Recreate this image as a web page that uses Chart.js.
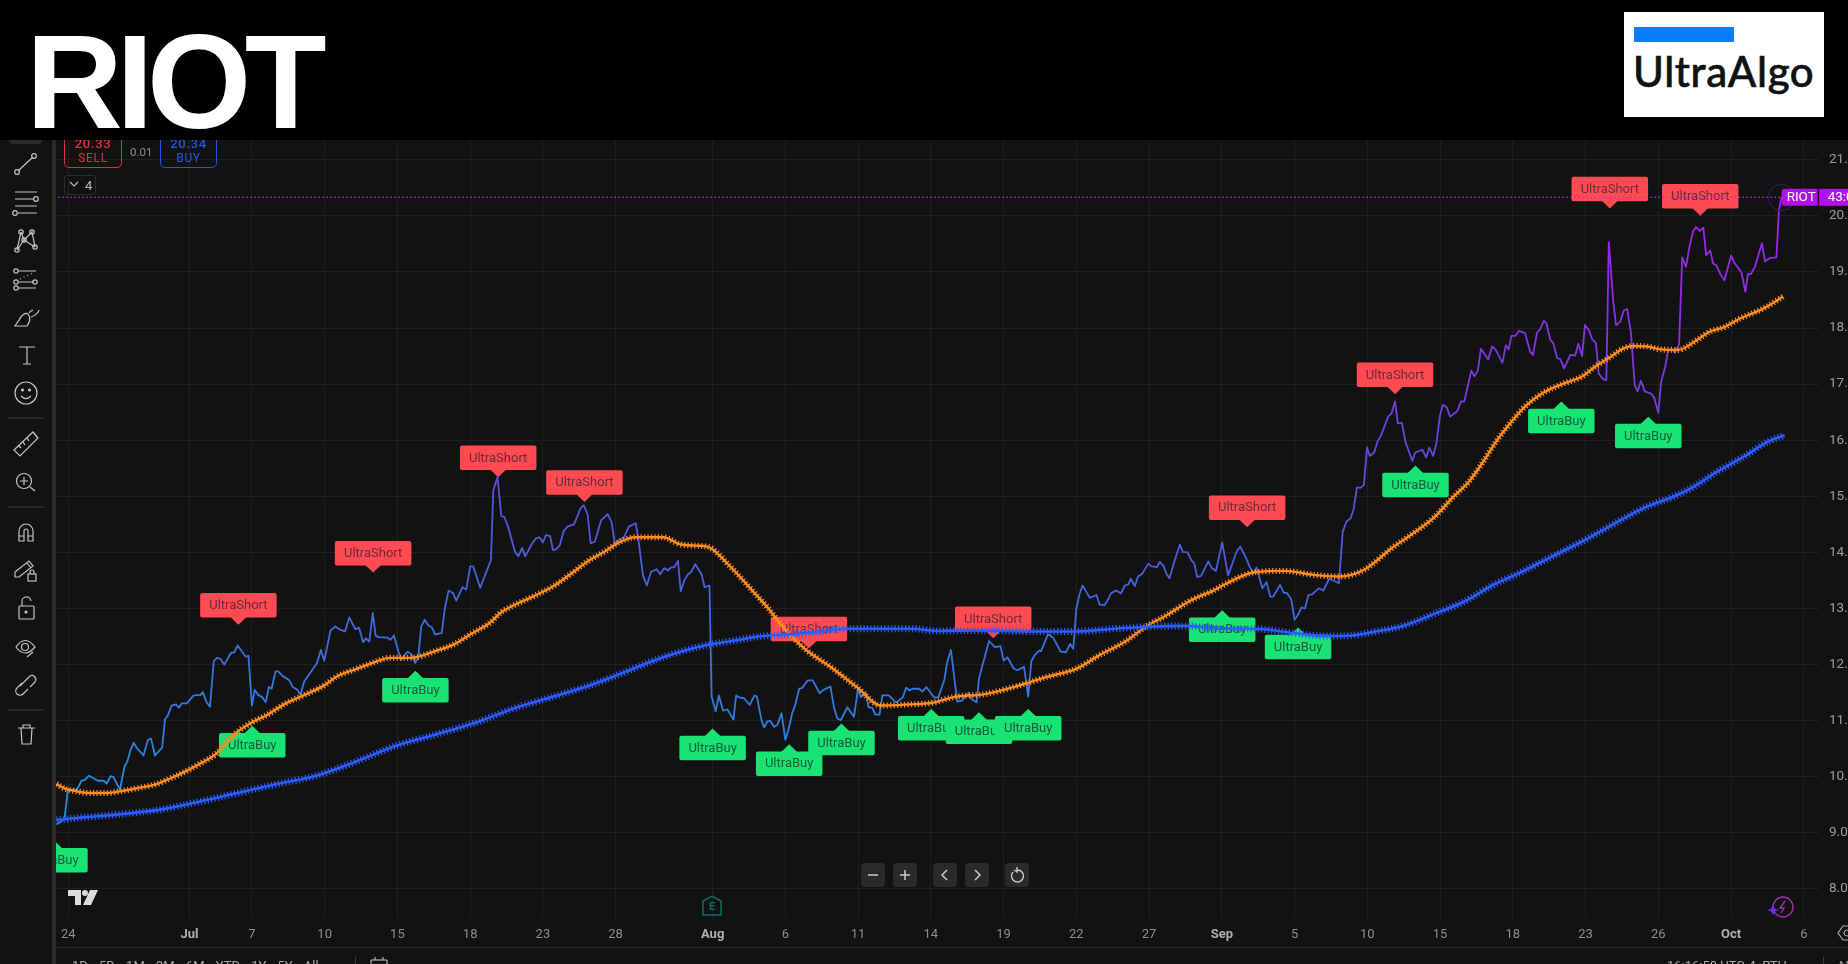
<!DOCTYPE html>
<html lang="en">
<head>
<meta charset="UTF-8">
<title>RIOT</title>
<script src="https://cdn.jsdelivr.net/npm/chart.js@4"></script>
<style>
  html, body { margin: 0; padding: 0; width: 1848px; height: 964px; overflow: hidden; background: #121212; font-family: Roboto, sans-serif; }
  #myChart { position: absolute; left: 0; top: 0; }
  .abs { position: absolute; white-space: nowrap; }
  #header { position: absolute; left: 0; top: 0; width: 1848px; height: 140px; background: #000; overflow: hidden; }
  #riot { position: absolute; left: 26px; top: 9px; font: bold 134px/146px "Liberation Sans", sans-serif; letter-spacing: -6.5px; color: #fff; }
  #logo { position: absolute; left: 1624px; top: 12px; width: 200px; height: 105px; background: #fff; }
  #logobar { position: absolute; left: 10px; top: 15px; width: 100px; height: 15px; background: #0a7cff; }
  #logotext { position: absolute; left: 9px; top: 35px; font: 500 42px/48px Lato, sans-serif; color: #111; letter-spacing: .6px; -webkit-text-stroke: .6px #111; }
  #toolbar { position: absolute; left: 0; top: 0; width: 52px; height: 964px; background: #121212; }
  #strip { position: absolute; left: 52px; top: 0; width: 4px; height: 964px; background: #2a2a2a; }
  .btn { position: absolute; top: 863px; width: 24px; height: 24px; background: #2a2a2a; border-radius: 4px; }
  .order { position: absolute; box-sizing: border-box; top: 129px; height: 39px; border: 1.2px solid; border-radius: 5px; text-align: center; font-size: 12px; line-height: 14px; letter-spacing: .7px; }
</style>
</head>
<body>
<canvas id="myChart" width="1848" height="964"></canvas>

<!-- trade boxes under the header -->
<div class="order" style="left:64px;width:58px;color:#e0303f;border-color:#e0303f;padding-top:7px"><b style="font-weight:500;font-size:13px">20.33</b><br>SELL</div>
<div class="abs" style="left:130px;top:145px;font-size:11.5px;color:#8c8c8c">0.01</div>
<div class="order" style="left:160px;width:57px;color:#2456e0;border-color:#2456e0;padding-top:7px"><b style="font-weight:500;font-size:13px">20.34</b><br>BUY</div>
<div class="abs" style="left:64px;top:175px;width:32px;height:20px;box-sizing:border-box;border:1px solid #2c2c2c;border-radius:3px;color:#bbb;font-size:13px;line-height:19px;padding-left:20px">4</div>
<svg class="abs" style="left:68px;top:180px" width="12" height="8"><path d="M2 2 L6 6 L10 2" fill="none" stroke="#bbb" stroke-width="1.2"/></svg>

<div class="abs" style="left:56px;right:0;top:947px;height:1px;background:#2a2a2a"></div>

<!-- chart zoom buttons -->
<div class="btn" style="left:861px"><svg width="24" height="24"><path d="M7 12H17" stroke="#ccc" stroke-width="1.5"/></svg></div>
<div class="btn" style="left:893px"><svg width="24" height="24"><path d="M7 12H17M12 7V17" stroke="#ccc" stroke-width="1.5"/></svg></div>
<div class="btn" style="left:933px"><svg width="24" height="24"><path d="M14 7L9 12L14 17" fill="none" stroke="#ccc" stroke-width="1.5"/></svg></div>
<div class="btn" style="left:965px"><svg width="24" height="24"><path d="M10 7L15 12L10 17" fill="none" stroke="#ccc" stroke-width="1.5"/></svg></div>
<div class="btn" style="left:1005px"><svg width="24" height="24"><path d="M8 9A6 6 0 1 0 12 7M12 4V9L9 7" fill="none" stroke="#ccc" stroke-width="1.4"/></svg></div>

<!-- earnings mark, tv logo, lightning -->
<svg class="abs" style="left:702px;top:895px" width="22" height="22"><path d="M1 6L10 1L19 6V20H1Z" fill="none" stroke="#0d6e5e" stroke-width="1.5"/><text x="10" y="15" font-size="11" font-weight="bold" text-anchor="middle" fill="#0d6e5e" font-family="Roboto">E</text></svg>
<svg class="abs" style="left:68px;top:889px" width="31" height="17"><path d="M0 1H13V16H7V7H0Z M22 1H30L23 16H15Z" fill="#dcdcdc"/><circle cx="17" cy="4" r="3" fill="#dcdcdc"/></svg>
<svg class="abs" style="left:1765px;top:894px" width="32" height="26"><circle cx="18" cy="13" r="10" fill="none" stroke="#a030b0" stroke-width="1.4"/><path d="M20 7L15 14H19L16 19" fill="none" stroke="#a030b0" stroke-width="1.4"/><path d="M8 11L10 15L14 16L10 17.5L8 21L6 17.5L2 16L6 15Z" fill="#6a30f0"/></svg>
<svg class="abs" style="left:1836px;top:924px" width="12" height="18"><path d="M12 2H7L2 9L7 16H12" fill="none" stroke="#aaa" stroke-width="1.2"/><circle cx="11" cy="9" r="3" fill="none" stroke="#aaa"/></svg>

<!-- bottom bar, only the top of it is in the shot -->
<div class="abs" style="left:72px;top:958px;font-size:13px;color:#aaa;word-spacing:8px">1D 5D 1M 3M 6M YTD 1Y 5Y All</div>
<div class="abs" style="left:355px;top:957px;width:1px;height:7px;background:#3a3a3a"></div>
<svg class="abs" style="left:370px;top:957px" width="18" height="7"><path d="M1 7V3H17V7M5 0V3M13 0V3" fill="none" stroke="#ccc"/></svg>
<div class="abs" style="left:1667px;top:958px;font-size:13px;color:#aaa">16:16:58 UTC-4 &nbsp;RTH</div>
<div class="abs" style="left:1823px;top:957px;width:1px;height:7px;background:#3a3a3a"></div>
<div class="abs" style="left:1837px;top:958px;font-size:13px;color:#aaa">AD</div>

<!-- drawing tools -->
<div id="strip"></div>
<div id="toolbar">
<svg width="52" height="964" fill="none" stroke="#c4c4c4" stroke-width="1.2">
  <rect x="9" y="120" width="33" height="24" rx="4" fill="#2a2a2a" stroke="none"/>
  <path d="M18 171L33 157"/><circle cx="17" cy="172" r="2.3"/><circle cx="34" cy="156" r="2.3"/>
  <path d="M15 192H37M15 199H34M15 206H37M17 213H37"/><circle cx="36" cy="199" r="2.3"/><circle cx="15" cy="213" r="2.3"/>
  <path d="M17 250L24 240L35 247M21 232L24 240L32 232L35 247M17 250L21 232"/><circle cx="17" cy="250" r="2.2"/><circle cx="21" cy="232" r="2.2"/><circle cx="32" cy="232" r="2.2"/><circle cx="35" cy="247" r="2.2"/><circle cx="24" cy="240" r="2.2"/>
  <path d="M18 271H36M18 288H36M18 282H34"/><circle cx="16" cy="271" r="2.2"/><circle cx="16" cy="282" r="2.2"/><circle cx="16" cy="288" r="2.2"/><circle cx="35" cy="282" r="2.2"/><path d="M20 279L33 273" stroke-dasharray="1 3"/>
  <path d="M15 326H27C30 322 31 318 28 314C25 312 21 316 19 320ZM29 313C30 311 33 310 33 310M31 317C35 316 39 312 39 310"/>
  <path d="M19 347H35M27 347V364M23 364H31"/>
  <circle cx="26" cy="393" r="11"/><circle cx="22.5" cy="390" r="1" fill="#c4c4c4"/><circle cx="29.5" cy="390" r="1" fill="#c4c4c4"/><path d="M21 396Q26 401 31 396"/>
  <path d="M8 418H44" stroke="#3a3a3a"/>
  <path d="M14 450L33 432L38 438L20 456ZM19 446L21 448M23 442L25 445M27 438L29 441"/>
  <circle cx="24" cy="481" r="7.5"/><path d="M24 477V485M20 481H28M30 487L35 491"/>
  <path d="M8 507H44" stroke="#3a3a3a"/>
  <path d="M19 541V531A7 7 0 0 1 33 531V541H28V531A2 2 0 0 0 24 531V541ZM19 536H24M28 536H33"/>
  <path d="M15 572L29 561L33 566L19 577H15ZM27 563L31 568"/><rect x="28" y="574" width="8" height="7"/><path d="M30 574V572A2 2 0 0 1 34 572V574"/>
  <rect x="19" y="606" width="15" height="13" rx="1"/><path d="M22 606V602A4.5 4.5 0 0 1 31 601"/><circle cx="26" cy="612" r="1" fill="#c4c4c4"/>
  <path d="M16 647Q25 634 35 647Q25 659 16 647Z"/><circle cx="25" cy="647" r="3.5"/><path d="M27 657L33 652"/>
  <path d="M20 686L30 676A4 4 0 0 1 35 682L30 687M22 683L17 688A4 4 0 0 0 23 694L28 689"/>
  <path d="M8 710H44" stroke="#3a3a3a"/>
  <path d="M18 728H35M21 728L22 744H31L32 728M23 728V725H30V728"/>
</svg>
</div>

<div id="header">
  <div id="riot">RIOT</div>
  <div id="logo"><div id="logobar"></div><div id="logotext">UltraAlgo</div></div>
</div>

<script>
// x is the bar number on TradingView's time axis (hourly bars, bar 0 = Jun 24)
const tickBars = [0,35,53,74,95,116,137,158,186,207,228,249,270,291,312,333,354,375,396,417,438,459,480,501];
const tickLabels = ['24','Jul','7','10','15','18','23','28','Aug','6','11','14','19','22','27','Sep','5','10','15','18','23','26','Oct','6'];
const boldLabels = ['Jul','Aug','Sep','Oct'];
const priceTicks = [8,9,10,11,12,13,14,15,16,17,18,19,20,21];
const lastPrice = 20.33;

const priceBars = [-3.4,-1.1,-0.1,2.5,3.8,4.7,6,8.5,10.2,11.1,12.2,13,14.9,16.2,17,18,18.9,19.7,21.7,23,23.9,25,27.1,27.9,28.8,29.8,31.1,31.9,32.8,34.2,36.2,38.2,38.8,39.9,40.9,42,42.9,44,45,47,47.9,48.9,51.2,52,53,53.8,54.8,56,57,57.9,58.7,59.8,60.6,62,63.8,64.8,66.1,67,68.1,71.8,72.9,73.9,75.7,77.1,78.2,79.9,81.1,82.9,83.9,85.1,85.9,86.9,87.9,88.7,89.6,92.2,93,94,96,97.9,99,100.1,101,101.9,102.9,103.9,105,105.9,107.8,108.7,109.8,111.1,112,113.8,114.9,116,116.9,118.9,122,122.7,123.9,125,125.9,126.9,128.9,129.9,131,131.9,133.8,135,136,137,137.9,139.1,139.9,140.9,141.9,143,144.1,146,147.9,148.8,149.9,150.8,152,153.8,155.7,156.8,157.8,159,160.4,161.8,163.8,164.6,165.9,167,168.2,169.8,170.9,172,173.1,173.9,175,176,176.8,177.9,178.9,179.8,181,182.8,183.7,185.1,185.7,186.9,187.8,189,190.3,192,192.8,193.9,195.1,196.7,198.1,198.8,200.1,200.9,201.8,202.6,203.8,204.7,205.9,207,207.9,209,209.8,211,211.8,213.5,214.9,216.9,218,220,221.1,222,223,224.9,226.8,228,228.8,230.3,231,232.1,233,234.2,235,236.9,238.6,239.2,240.9,241.9,242.8,243.7,245.5,246.6,247.7,250,251.2,252.9,253.7,254.8,256.6,258,260,260.6,262.2,262.9,264,265.8,267.5,269.1,270,271.1,272.9,274,275.9,277.1,278,279.1,280.3,280.8,282.8,284.3,286.5,288,289.2,290.1,291,291.9,292.8,294.9,296.8,297.7,299.1,299.9,301,302.5,303.9,305,306,306.7,307.9,308.8,310,311.8,312.7,314.3,315.1,316.2,317,317.9,319.1,320.9,321.7,323.1,324.2,325,325.9,327,329.1,330.1,331.3,333.1,334.8,336.2,337.3,338.3,339.6,341,342.2,343,344.7,345.9,347,347.8,349.8,350.9,351.7,353,354,355,356,357,358,359,361,362.3,364,366.8,367.9,369,370.2,371,372,373,374,374.9,375.7,377,377.9,379,381,382,383,383.8,385,386,388,388.8,390.9,392,392.9,394,394.9,396,396.8,397.9,398.9,401,402,403,405,405.9,406.9,407.8,409.9,411,412,414,415,415.8,416.6,417.7,418.8,420.5,422,422.8,424,424.9,426,426.7,427.8,428.7,429.8,430.7,431.8,433.6,435,435.9,437,437.8,439,439.9,441,441.8,443,444,444.7,446,446.8,448,449,450,451.1,452.2,453,454,455.1,456.9,457.8,459,459.8,461,461.8,463,463.8,465,465.9,467,467.9,469,469.9,471,472,472.8,474,474.8,475.7,477,478.1,480,481,483,484.1,484.9,485.7,486.9,488.9,489.8,491.4,493.1,493.8,494.6];
const priceValues = [9.15,9.25,9.77,9.77,9.93,9.94,10.02,9.93,9.93,9.88,10.01,10.0,9.77,10.18,10.27,10.48,10.61,10.52,10.38,10.66,10.68,10.38,10.52,11.02,11.1,11.27,11.29,11.23,11.31,11.31,11.45,11.46,11.51,11.33,11.25,12.06,12.12,12.1,12.0,12.21,12.22,12.34,12.14,12.16,11.27,11.55,11.46,11.42,11.33,11.6,11.57,11.88,11.88,11.79,11.72,11.6,11.55,11.46,11.7,12.03,12.26,12.07,12.61,12.68,12.63,12.59,12.84,12.63,12.66,12.4,12.47,12.41,12.92,12.52,12.49,12.48,12.44,12.52,12.08,12.23,12.19,12.03,12.12,12.68,12.8,12.7,12.66,12.54,12.56,13.0,13.32,13.27,13.14,13.38,13.34,13.75,13.75,13.37,13.86,15.11,15.34,14.65,14.63,14.47,14.02,13.93,14.08,13.93,14.15,14.25,14.27,14.18,14.31,14.29,14.04,14.06,14.13,14.38,14.46,14.5,14.79,14.84,14.68,14.16,14.19,14.57,14.68,14.55,14.15,14.23,14.27,14.46,14.52,14.22,13.59,13.41,13.65,13.7,13.61,13.72,13.68,13.73,13.74,13.85,13.31,13.51,13.61,13.65,13.79,13.61,13.38,13.41,11.43,11.17,11.45,11.18,11.2,11.02,11.45,11.41,11.4,11.28,11.45,11.43,11.01,10.88,10.99,11.0,10.89,10.93,11.13,10.66,10.84,11.14,11.27,11.57,11.58,11.72,11.72,11.49,11.55,11.61,11.22,11.04,11.01,11.24,11.07,11.58,11.42,11.49,11.24,11.23,11.11,11.11,11.45,11.45,11.34,11.33,11.42,11.59,11.54,11.57,11.57,11.52,11.6,11.41,11.42,11.73,12.04,12.26,11.34,11.36,11.5,11.39,11.33,11.75,12.01,12.42,12.31,12.33,12.07,12.13,11.93,11.9,11.96,11.43,12.06,12.18,12.25,12.24,12.54,12.48,12.23,12.22,12.37,12.28,13.0,13.25,13.41,13.19,13.24,13.07,13.06,13.13,13.27,13.32,13.27,13.41,13.43,13.53,13.4,13.57,13.62,13.8,13.75,13.74,13.83,13.75,13.62,13.54,13.8,14.14,14.01,14.0,13.86,13.81,13.56,13.58,13.84,13.72,13.67,14.18,13.59,13.83,14.02,14.1,13.95,13.75,13.63,13.73,13.36,13.47,13.21,13.21,13.42,13.28,13.28,13.17,12.8,12.89,13.02,13.0,13.24,13.25,13.36,13.32,13.53,13.45,14.37,14.55,14.61,14.76,15.16,15.15,15.2,15.87,15.72,15.78,15.97,16.09,16.42,16.48,16.69,16.3,16.31,15.97,15.63,15.78,15.83,15.69,15.87,15.72,15.93,16.45,16.63,16.59,16.42,16.52,16.69,16.69,17.24,17.14,17.24,17.63,17.44,17.67,17.62,17.38,17.69,17.62,17.86,17.86,17.95,17.91,17.58,17.52,17.92,17.98,18.13,18.08,17.79,17.73,17.46,17.45,17.28,17.52,17.51,17.72,17.5,18.05,17.96,17.8,17.73,17.19,17.09,17.07,19.53,18.47,18.05,18.11,18.31,18.34,17.91,16.98,16.87,17.06,16.87,16.83,16.76,16.49,17.04,17.31,17.59,17.62,17.56,17.71,19.26,19.09,19.42,19.72,19.8,19.73,19.79,19.3,19.38,19.15,19.12,18.95,18.85,19.29,19.16,18.99,18.65,18.97,18.96,19.09,19.51,19.19,19.25,19.26,20.1,20.34];

const orangeBars = [-3.4,-0.9,2.5,6.5,11.1,15.7,20.2,25.4,29.4,34,38.5,42.5,45.4,48.8,53.3,57.9,62.5,68.2,73.9,77.3,83,88.7,92.7,99,105.9,111.6,116.1,121.8,124.7,128.7,134.4,140.1,145.8,150.4,155,159,163.8,171.8,176.4,181,184.6,191.2,197,202.1,206.6,213,219.8,227.8,234.6,242.6,249.4,256.3,264.3,275.7,282.5,291.1,297.4,305.4,311.1,316.8,323.6,330.5,338.1,342.7,351.1,359.5,366.8,374.1,381.9,387.5,394.2,399.8,404.3,408.8,412.1,416.6,420.5,425.6,431.2,436.8,440.7,444.6,449.1,451.9,455.8,459.7,464.7,470.3,473.7,478.2,482.6,489.4,495];
const orangeValues = [9.87,9.79,9.74,9.71,9.71,9.75,9.8,9.87,9.97,10.1,10.25,10.4,10.59,10.8,10.98,11.12,11.3,11.46,11.63,11.78,11.92,12.05,12.12,12.12,12.24,12.37,12.54,12.75,12.92,13.06,13.22,13.4,13.65,13.86,14.02,14.18,14.27,14.27,14.15,14.12,14.1,13.74,13.35,13.0,12.65,12.26,11.97,11.59,11.27,11.29,11.32,11.43,11.47,11.65,11.78,11.93,12.16,12.42,12.68,12.87,13.13,13.32,13.56,13.65,13.67,13.6,13.57,13.69,14.07,14.31,14.62,14.99,15.26,15.65,15.97,16.33,16.6,16.84,17.0,17.13,17.31,17.46,17.64,17.68,17.67,17.62,17.61,17.79,17.93,18.02,18.17,18.35,18.56];

const blueBars = [-3.4,3.1,14.5,26,37.4,48.8,60.2,71.6,83,94.4,105.9,117.3,128.7,140.1,151.5,159.2,170.7,182.1,192.4,199.2,208.3,216.3,224.3,243.7,250.6,262,279.1,290.5,302,313.4,322.5,330.5,338.1,345,354,362.9,370.7,377.4,385.3,394.2,403.2,411,418.8,427.8,436.8,445.7,448,455.8,463.6,469.2,476,483.8,490.5,495.5];
const blueValues = [9.23,9.27,9.33,9.41,9.55,9.71,9.87,10.02,10.27,10.55,10.75,10.96,11.22,11.43,11.65,11.83,12.11,12.32,12.43,12.5,12.54,12.58,12.64,12.64,12.6,12.61,12.59,12.59,12.64,12.68,12.69,12.65,12.64,12.63,12.56,12.51,12.52,12.59,12.69,12.9,13.13,13.41,13.63,13.91,14.19,14.49,14.57,14.82,15.0,15.17,15.44,15.71,15.97,16.09];

// signal flags: bar and price of the tip of each flag
const shortBars = [49.1,88,124.1,149,213.8,267,340.3,383,445,471.1];
const shortPrices = [12.71,13.64,15.34,14.9,12.29,12.47,14.45,16.82,20.13,20.0];
const buyBars = [-4,53.1,100.2,186,208.1,223.2,249.1,262.9,277.1,333.1,355,388.9,431,456.1];
const buyPrices = [8.86,10.91,11.89,10.86,10.58,10.95,11.21,11.15,11.21,12.97,12.66,15.55,16.69,16.42];

function priceStroke(context) {
  const chart = context.chart;
  if (!chart.chartArea) return '#4268dc';
  const y = chart.scales.y;
  const g = chart.ctx.createLinearGradient(0, y.getPixelForValue(9), 0, y.getPixelForValue(20.3));
  g.addColorStop(0, '#1f95d8');
  g.addColorStop(0.18, '#2f7de0');
  g.addColorStop(0.36, '#4268dc');
  g.addColorStop(0.53, '#5a50d8');
  g.addColorStop(0.71, '#7a3ae0');
  g.addColorStop(1, '#a41ff0');
  return g;
}

function points(xs, ys) {
  return xs.map(function (x, i) { return { x: x, y: ys[i] }; });
}

function isBoldTick(c) {
  return !!c.tick && boldLabels.includes(tickLabels[tickBars.indexOf(c.tick.value)]);
}

// flag: x, y is the tip, dir -1 body above the tip, 1 body below
function drawFlag(ctx, x, y, dir, w, fill, label, textColor) {
  const h = 24.5, tip = 7.2;
  const top = dir < 0 ? y - tip - h : y + tip;
  ctx.fillStyle = fill;
  ctx.beginPath();
  ctx.roundRect(x - w / 2, top, w, h, 2);
  ctx.fill();
  ctx.beginPath();
  ctx.moveTo(x, y);
  ctx.lineTo(x - 8, y + dir * (tip + 0.5));
  ctx.lineTo(x + 8, y + dir * (tip + 0.5));
  ctx.closePath();
  ctx.fill();
  ctx.fillStyle = textColor;
  ctx.font = '13px Roboto';
  ctx.textAlign = 'center';
  ctx.textBaseline = 'middle';
  ctx.fillText(label, x, top + h / 2 + 0.5);
}

const flagsPlugin = {
  id: 'flags',
  beforeDatasetsDraw(chart) {
    const { ctx, chartArea, scales } = chart;
    ctx.save();
    ctx.beginPath();
    ctx.rect(chartArea.left, chartArea.top, chartArea.width, chartArea.height);
    ctx.clip();
    shortBars.forEach(function (b, i) {
      drawFlag(ctx, scales.x.getPixelForValue(b), scales.y.getPixelForValue(shortPrices[i]), -1, 76.5, '#ff4a52', 'UltraShort', '#6a2c3c');
    });
    buyBars.forEach(function (b, i) {
      drawFlag(ctx, scales.x.getPixelForValue(b), scales.y.getPixelForValue(buyPrices[i]), 1, 66.5, '#19e473', 'UltraBuy', '#17593f');
    });
    ctx.restore();
  },
  afterDraw(chart) {
    // ring and tag on the last price
    const { ctx, scales } = chart;
    const x = scales.x.getPixelForValue(priceBars[priceBars.length - 1]);
    const y = scales.y.getPixelForValue(lastPrice);
    ctx.save();
    ctx.strokeStyle = '#3c1656';
    ctx.lineWidth = 1.2;
    ctx.beginPath();
    ctx.arc(x, y, 13, 0, Math.PI * 2);
    ctx.stroke();
    ctx.fillStyle = '#b012ea';
    ctx.beginPath();
    ctx.roundRect(x, y - 8.5, 36, 17, [3, 0, 0, 3]);
    ctx.fill();
    ctx.fillRect(x + 37.5, y - 8.5, 40, 17);
    ctx.fillStyle = '#fff';
    ctx.font = '13.5px Roboto';
    ctx.textAlign = 'left';
    ctx.textBaseline = 'middle';
    ctx.fillText('RIOT', x + 5, y + 0.5);
    ctx.fillText('43:05', x + 46, y + 0.5);
    ctx.restore();
  }
};

const lineBase = { pointRadius: 0, fill: false };

const myChart = new Chart(document.getElementById('myChart'), {
  type: 'line',
  data: {
    datasets: [
      Object.assign({}, lineBase, { label: 'Last', data: points([-4, 494.6], [lastPrice, lastPrice]), borderColor: '#b52cf5', borderWidth: 1.3, borderDash: [1.5, 2.5] }),
      Object.assign({}, lineBase, { label: 'Blue ticks', data: points(blueBars, blueValues), borderColor: '#2a5cff', borderWidth: 7, borderDash: [1.2, 2.26], cubicInterpolationMode: 'monotone' }),
      Object.assign({}, lineBase, { label: 'Blue MA', data: points(blueBars, blueValues), borderColor: '#2a5cff', borderWidth: 2.6, cubicInterpolationMode: 'monotone' }),
      Object.assign({}, lineBase, { label: 'Orange ticks', data: points(orangeBars, orangeValues), borderColor: '#ff8c1f', borderWidth: 6, borderDash: [1.2, 2.26], cubicInterpolationMode: 'monotone' }),
      Object.assign({}, lineBase, { label: 'Orange MA', data: points(orangeBars, orangeValues), borderColor: '#ff8c1f', borderWidth: 2.4, cubicInterpolationMode: 'monotone' }),
      Object.assign({}, lineBase, { label: 'RIOT', data: points(priceBars, priceValues), borderColor: priceStroke, borderWidth: 1.8, borderJoinStyle: 'round', tension: 0 })
    ]
  },
  options: {
    responsive: false,
    animation: false,
    devicePixelRatio: 1,
    layout: { autoPadding: false, padding: { left: 56, top: 120, right: 0, bottom: 0 } },
    plugins: { legend: { display: false }, tooltip: { enabled: false } },
    scales: {
      x: {
        type: 'linear',
        min: -3.55,
        max: 505.3,
        afterBuildTicks: function (scale) { scale.ticks = tickBars.map(function (v) { return { value: v }; }); },
        afterFit: function (scale) { scale.height = 46; },
        grid: { color: '#1f1f1f', lineWidth: 1, drawTicks: false },
        border: { display: false },
        ticks: {
          autoSkip: false,
          maxRotation: 0,
          padding: 9,
          callback: function (v) { return tickLabels[tickBars.indexOf(v)]; },
          font: function (c) { return { family: 'Roboto', size: 13, weight: isBoldTick(c) ? 'bold' : 'normal' }; },
          color: function (c) { return isBoldTick(c) ? '#b0b0b0' : '#8e8e8e'; }
        }
      },
      y: {
        position: 'right',
        min: 7.483,
        max: 21.708,
        afterBuildTicks: function (scale) { scale.ticks = priceTicks.map(function (v) { return { value: v }; }); },
        afterFit: function (scale) { scale.width = 29.3; },
        grid: { color: '#1f1f1f', lineWidth: 1, drawTicks: false },
        border: { display: false },
        ticks: {
          padding: 10.3,
          autoSkip: false,
          color: '#9c9c9c',
          font: { family: 'Roboto', size: 13.5 },
          callback: function (v) { return v.toFixed(2); }
        }
      }
    }
  },
  plugins: [flagsPlugin]
});
</script>
</body>
</html>
